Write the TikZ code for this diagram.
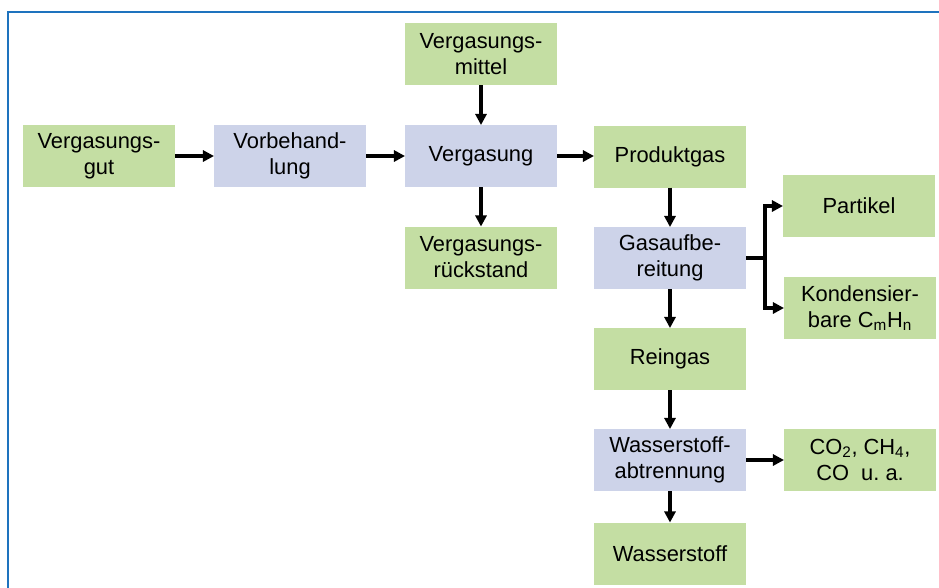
\documentclass[tikz,border=0pt]{standalone}
\usepackage{fontspec}
\setmainfont{Liberation Sans}
\usetikzlibrary{arrows.meta}
\definecolor{boxgreen}{RGB}{196,222,163}
\definecolor{boxblue}{RGB}{205,211,233}
\definecolor{frameblue}{RGB}{30,115,190}
\begin{document}
\begin{tikzpicture}[x=0.75pt,y=-0.75pt,
  every node/.style={font=\fontsize{16.4}{19.5}\selectfont, align=center, inner sep=0pt, outer sep=0pt,
    minimum width=114pt, minimum height=46.5pt},
  gbox/.style={fill=boxgreen},
  bbox/.style={fill=boxblue},
  arr/.style={line width=2.6pt, -{Triangle[length=8.3pt,width=8.3pt]}},
  conn/.style={line width=2.6pt}]
\useasboundingbox (0,0) rectangle (939,587);
\draw[frameblue, line width=1.5pt] (8,590) -- (8,12) -- (942,12);

\node[gbox] (gut) at (99,156) {Vergasungs-\\gut};
\node[bbox] (vorb) at (290,156) {Vorbehand-\\lung};
\node[gbox] (mittel) at (481,54) {Vergasungs-\\mittel};
\node[bbox] (verg) at (481,156) {Vergasung};
\node[gbox] (rueck) at (481,257.5) {Vergasungs-\\rückstand};
\node[gbox] (prod) at (670,156.5) {Produktgas};
\node[bbox] (gasauf) at (670,258) {Gasaufbe-\\reitung};
\node[gbox] (partikel) at (859,206) {Partikel};
\node[gbox] (kond) at (860,308) {Kondensier-\\bare C\textsubscript{m}H\textsubscript{n}};
\node[gbox] (rein) at (670,359) {Reingas};
\node[bbox] (wabt) at (670,460) {Wasserstoff-\\abtrennung};
\node[gbox] (co) at (860,460) {CO\textsubscript{2}, CH\textsubscript{4},\\CO~ u.\ a.};
\node[gbox] (wasser) at (670,553.5) {Wasserstoff};

\coordinate (j) at (765,258);

\draw[arr] (gut.east) -- (vorb.west);
\draw[arr] (vorb.east) -- (verg.west);
\draw[arr] (mittel.south) -- (verg.north);
\draw[arr] (verg.south) -- (rueck.north);
\draw[arr] (verg.east) -- (verg.east -| prod.west);
\draw[arr] (prod.south) -- (gasauf.north);
\draw[conn] (gasauf.east) -- (j);
\draw[arr] ([yshift=-0.9pt]j) |- (partikel.west);
\draw[arr] ([yshift=0.9pt]j) |- (kond.west);
\draw[arr] (gasauf.south) -- (rein.north);
\draw[arr] (rein.south) -- (wabt.north);
\draw[arr] (wabt.east) -- (co.west);
\draw[arr] (wabt.south) -- (wasser.north);
\end{tikzpicture}
\end{document}
